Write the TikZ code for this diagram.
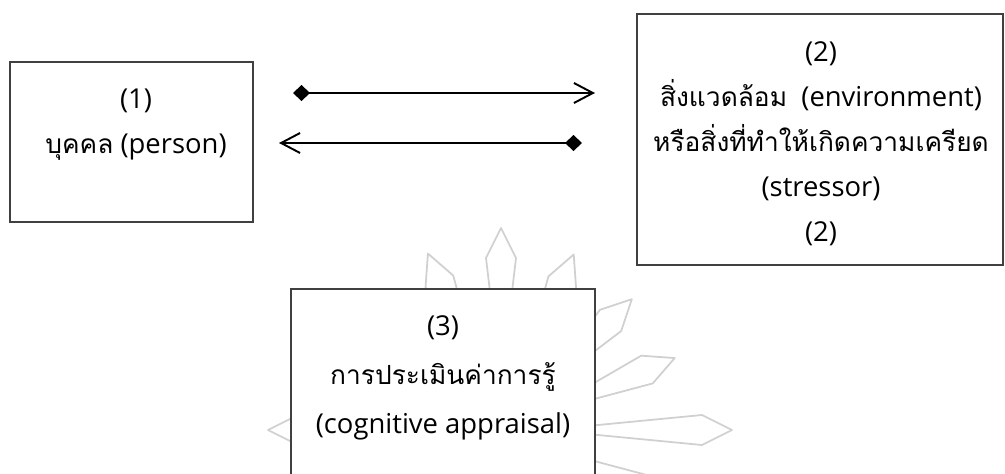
\documentclass[tikz,border=0pt]{standalone}
\usepackage{fontspec}
\setmainfont{Open Sans}
\newfontfamily\thaifont[Script=Thai,Scale=0.96]{Loma}
\usetikzlibrary{arrows.meta,positioning}
\definecolor{framegray}{RGB}{64,64,64}
\definecolor{sungray}{RGB}{208,208,208}

\begin{document}
\begin{tikzpicture}[
    box/.style={draw=framegray, line width=0.8pt, fill=white, rectangle},
    lbl/.style={align=center, font=\fontsize{15.6}{25.6}\selectfont},
    link/.style={line width=1.1pt, {Diamond[length=0.34cm,width=0.32cm]}-{Straight Barb[length=0.38cm,width=0.4cm]}},
    petal/.style={draw=sungray, line width=1pt, line join=round}
]
    \useasboundingbox (0,0) rectangle (20.1,9.46);
    \clip (0,0) rectangle (20.1,9.46);

    % Sun emblem in the background
    \begin{scope}[shift={(10.02,0.86)}]
        \foreach \a/\r in {0/4.62, 22.5/3.76, 45/3.7, 67.5/3.8, 90/4.04, 112.5/3.82,
                           135/3.76, 157.5/3.76, 180/4.66, 202.5/3.76, 225/3.76,
                           247.5/3.76, 270/4.04, 292.5/3.76, 315/3.76, 337.5/3.76}
            \draw[petal, rotate=\a] (0.9,0) -- (\r-0.6,0.3) -- (\r,0) -- (\r-0.6,-0.3) -- cycle;
    \end{scope}

    % Person
    \node[box, minimum width=4.86cm, minimum height=3.2cm] (person) at (2.63,6.62) {};
    \node[lbl] (person label) at (2.72,6.96) {(1)\\ {\thaifont บุคคล} (person)};

    % Environment / stressor
    \node[box, minimum width=7.32cm, minimum height=5.02cm] (env) at (16.4,6.67) {};
    \node[lbl] (env label) at (16.42,6.58)
        {(2)\\ {\thaifont สิ่งแวดล้อม}~ (environment)\\ {\thaifont หรือสิ่งที่ทำให้เกิดความเครียด}\\ (stressor)\\ (2)};

    % Cognitive appraisal
    \node[box, minimum width=6.08cm, minimum height=5cm] (appraisal) at (8.86,1.18) {};
    \node[lbl, font=\fontsize{15.6}{28}\selectfont] (appraisal label) at (8.86,1.9)
        {(3)\\ {\thaifont การประเมินค่าการรู้}\\ (cognitive appraisal)};

    % Transactions
    \coordinate (to env start) at (5.86,7.6);
    \coordinate (to env end) at (11.9,7.6);
    \coordinate (to person start) at (11.64,6.6);
    \coordinate (to person end) at (5.58,6.6);
    \draw[link] (to env start) -- (to env end);
    \draw[link] (to person start) -- (to person end);
\end{tikzpicture}
\end{document}
